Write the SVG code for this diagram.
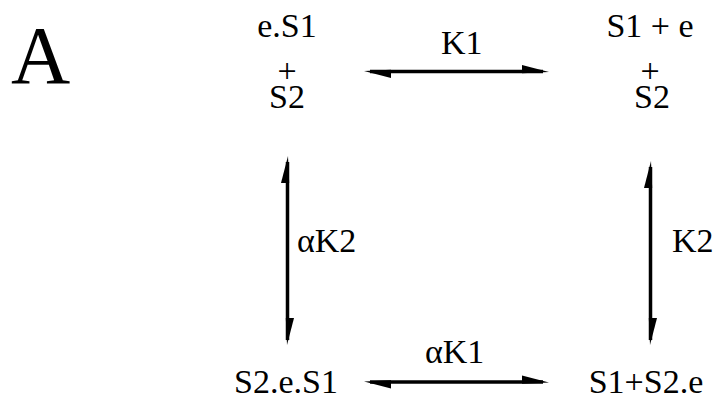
<svg xmlns="http://www.w3.org/2000/svg" width="717" height="400" viewBox="0 0 717 400">
<rect width="717" height="400" fill="#fff"/>
<g font-family="'Times New Roman', 'Liberation Serif', 'DejaVu Serif', serif" fill="#000">
<text x="11" y="83" font-size="82">A</text>
<g id="n1" text-anchor="middle" font-size="34">
<text x="287" y="37">e.S1</text>
<text x="287" y="82">+</text>
<text x="287" y="108">S2</text>
</g>
<g id="n2" text-anchor="middle" font-size="34">
<text x="650" y="37">S1 + e</text>
<text x="650" y="82">+</text>
<text x="652" y="108">S2</text>
</g>
<g id="n3" text-anchor="middle" font-size="34"><text x="286" y="393">S2.e.S1</text></g>
<g id="n4" text-anchor="middle" font-size="34"><text x="646" y="393">S1+S2.e</text></g>
</g>
<g id="connectors">
<g stroke="#000" stroke-width="3.5" fill="none">
<line x1="370" y1="71.5" x2="543" y2="71.5"/>
<line x1="370" y1="382" x2="543" y2="382"/>
<line x1="287.5" y1="162" x2="287.5" y2="340"/>
<line x1="650.5" y1="167" x2="650.5" y2="340"/>
</g>
<g fill="#000" stroke="none">
<polygon points="364,71 391,69.8 391,78"/>
<polygon points="549,72 522,73.2 522,65"/>
<polygon points="364,381.5 391,380.3 391,388.5"/>
<polygon points="549,382.5 522,383.7 522,375.5"/>
<polygon points="288,156 289.2,183 281,183"/>
<polygon points="287,345 285.8,318 294,318"/>
<polygon points="651,161 652.2,188 644,188"/>
<polygon points="650,345 648.8,318 657,318"/>
</g>
<g font-family="'Times New Roman', 'Liberation Serif', 'DejaVu Serif', serif" font-size="34" fill="#000">
<text x="441" y="54">K1</text>
<text x="297" y="252">αK2</text>
<text x="672" y="252">K2</text>
<text x="425" y="363">αK1</text>
</g>
</g>
</svg>
